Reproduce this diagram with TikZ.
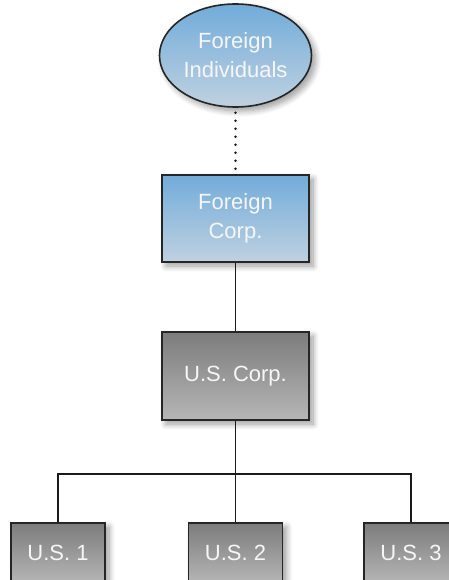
\documentclass[tikz,border=0pt]{standalone}
\usepackage{fontspec}
\setmainfont{Liberation Sans}
\usetikzlibrary{shapes.geometric,shadows.blur}
\definecolor{bluetop}{HTML}{72ACDA}
\definecolor{bluebot}{HTML}{BFD1E0}
\definecolor{graytop}{HTML}{7C7C7C}
\definecolor{graybot}{HTML}{B6B6B6}
\definecolor{edgecol}{HTML}{262626}
\definecolor{linecol}{HTML}{1A1A1A}
\definecolor{txtcol}{HTML}{F6F6F6}
\begin{document}
\begin{tikzpicture}[x=1pt,y=-1pt,
  basebox/.style={draw=edgecol, line width=1.6pt, text=txtcol, align=center,
    font=\fontsize{22}{29}\selectfont, inner sep=0pt,
    blur shadow={shadow xshift=4pt, shadow yshift=-4pt, shadow blur steps=10, shadow opacity=40, shadow blur radius=6pt}},
  bluebox/.style={basebox, top color=bluetop, bottom color=bluebot, rectangle, minimum width=147pt, minimum height=87pt},
  blueell/.style={basebox, top color=bluetop, bottom color=bluebot, ellipse, minimum width=152pt, minimum height=103pt},
  graybox/.style={basebox, top color=graytop, bottom color=graybot, rectangle, minimum width=147pt, minimum height=88pt},
  smallbox/.style={basebox, top color=graytop, bottom color=graybot, rectangle, minimum width=94pt, minimum height=60pt},
  conn/.style={draw=linecol, line width=1.8pt},
  dotconn/.style={draw=linecol, line width=2.8pt, line cap=round, dash pattern=on 0pt off 8pt}]
\useasboundingbox (0,0) rectangle (448,580);
\node[blueell] (ind) at (235.5,55.5) {Foreign\\Individuals};
\node[bluebox] (fc) at (235.5,218.5) {Foreign\\Corp.};
\node[graybox] (usc) at (235.5,376) {U.S. Corp.};
\node[smallbox] (us1) at (58,553) {U.S. 1};
\node[smallbox] (us2) at (235.5,553) {U.S. 2};
\node[smallbox] (us3) at (411,553) {U.S. 3};
\coordinate (j) at (235.5,474);
\draw[dotconn] ([yshift=-5pt]ind.south) -- (fc.north);
\draw[conn] (fc.south) -- (usc.north);
\draw[conn] (usc.south) -- (j);
\draw[conn] (j) -| (us1.north);
\draw[conn] (j) -| (us3.north);
\draw[conn] (j) -- (us2.north);
\end{tikzpicture}
\end{document}
